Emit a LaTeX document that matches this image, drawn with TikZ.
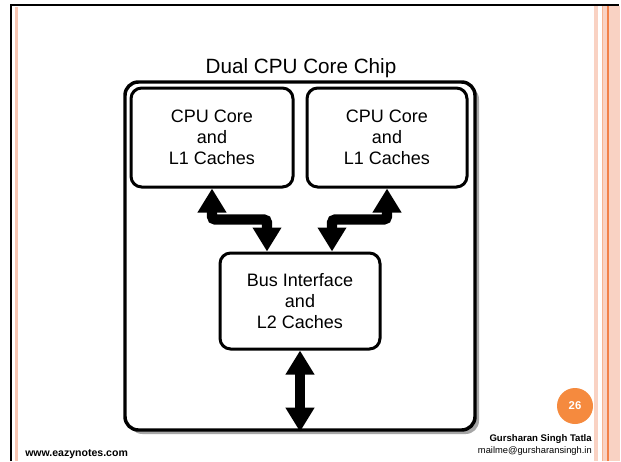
\documentclass[tikz,border=0pt]{standalone}
\usepackage{fontspec}
\setmainfont{Liberation Sans}
\usetikzlibrary{arrows.meta,shadows,calc}
\definecolor{pinkline}{HTML}{F8C6B3}
\definecolor{pinkband}{HTML}{F9D2C3}
\definecolor{orangeline}{HTML}{F28148}
\definecolor{badge}{HTML}{F58A3E}
\begin{document}
\begin{tikzpicture}[x=0.75pt,y=-0.75pt,
  box/.style={draw=black, line width=2.25pt, rounded corners=8pt, fill=white,
    align=center, font=\fontsize{13.5}{15.75}\selectfont, inner sep=0pt},
  bigarrow/.style={line width=7.8pt, rounded corners=2.5pt,
    {Triangle[width=20.5pt,length=18pt]}-{Triangle[width=20.5pt,length=18pt]}},
  foot/.style={inner sep=0pt, font=\fontsize{7}{8}\selectfont}]
\useasboundingbox (0,0) rectangle (621,461);
\fill[white] (0,0) rectangle (621,461);
% slide frame
\fill[pinkline] (15,7) rectangle (17.5,461);
\fill[pinkband] (594,6) rectangle (598,461);
\fill[pinkband] (602,6) rectangle (620,461);
\fill[orangeline!60] (601.5,6) rectangle (602.5,461);
\fill[orangeline] (606.5,6) rectangle (608.5,461);
\draw[black, line width=1.8pt] (11,461) -- (11,5) -- (619,5);
% chip
\node[draw=black, line width=2.6pt, rounded corners=10pt, fill=white,
  minimum width=262.5pt, minimum height=261pt, inner sep=0pt,
  drop shadow={shadow xshift=3pt, shadow yshift=-3pt, fill=black!35, opacity=1}] (chip) at (300,256) {};
% title
\node[anchor=base, inner sep=0pt, font=\fontsize{15.5}{18}\selectfont] (title) at (301,73) {Dual CPU Core Chip};
% inner boxes
\node[box, minimum width=121.5pt, minimum height=74.25pt] (cpu1) at (212,137.5) {CPU Core\\and\\L1 Caches};
\node[box, minimum width=120pt, minimum height=74.25pt] (cpu2) at (387,137.5) {CPU Core\\and\\L1 Caches};
\node[box, minimum width=120pt, minimum height=72pt] (bus) at (300,301) {Bus Interface\\and\\L2 Caches};
% arrows
\draw[bigarrow] (cpu1.south) -- ++(0,31) -| ($(bus.north)+(-33,0)$);
\draw[bigarrow] (cpu2.south) -- ++(0,31) -| ($(bus.north)+(32,0)$);
\draw[bigarrow] (bus.south) -- (bus.south |- chip.south);
% footer
\node[circle, fill=badge, minimum size=27pt, inner sep=0pt, text=white,
  font=\fontsize{8.5}{10}\selectfont\bfseries] (page) at (575,406) {26};
\node[foot, anchor=base east, font=\fontsize{7.2}{8}\selectfont\bfseries] (author) at (592,441) {Gursharan Singh Tatla};
\node[foot, anchor=base east] (mail) at (592,453) {mailme@gursharansingh.in};
\node[foot, anchor=base west, font=\fontsize{7.9}{9}\selectfont\bfseries] (site) at (25,456) {www.eazynotes.com};
\end{tikzpicture}
\end{document}
